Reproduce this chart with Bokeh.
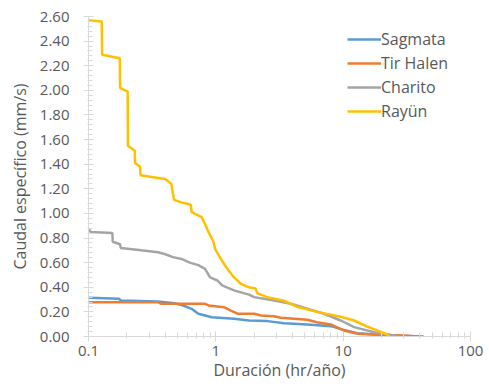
from bokeh.plotting import figure
from bokeh.models import FixedTicker, Legend, LegendItem, NumeralTickFormatter, Range1d
from bokeh.embed import file_html
from bokeh.resources import INLINE

# Data
sag_x = [0.100, 0.174, 0.179, 0.351, 0.475, 0.554, 0.645, 0.729, 0.929, 1.39, 1.82, 2.54, 3.44, 5.24, 7.99, 10.1, 12.95, 17.5, 28.2, 42.9]
sag_y = [0.315, 0.306, 0.293, 0.285, 0.270, 0.252, 0.225, 0.185, 0.157, 0.144, 0.130, 0.125, 0.108, 0.098, 0.084, 0.054, 0.027, 0.016, 0.006, 0.0]

tir_x = [0.100, 0.351, 0.373, 0.823, 0.875, 1.16, 1.31, 1.48, 2.00, 2.26, 2.87, 3.23, 5.24, 6.20, 7.99, 10.1, 12.95, 19.7, 31.8, 38.2]
tir_y = [0.279, 0.279, 0.266, 0.266, 0.252, 0.238, 0.211, 0.185, 0.185, 0.171, 0.165, 0.152, 0.136, 0.116, 0.098, 0.049, 0.022, 0.014, 0.006, 0.0]

cha_x = [0.100, 0.104, 0.154, 0.155, 0.177, 0.179, 0.259, 0.351, 0.396, 0.461, 0.537, 0.625, 0.729, 0.823, 0.901, 1.03, 1.12, 1.39, 1.82, 2.00, 2.87, 3.88, 5.24, 7.07, 9.56, 12.2, 17.5, 25.0, 27.4]
cha_y = [0.876, 0.850, 0.840, 0.770, 0.750, 0.720, 0.700, 0.685, 0.670, 0.645, 0.630, 0.600, 0.580, 0.550, 0.480, 0.455, 0.415, 0.375, 0.340, 0.320, 0.293, 0.266, 0.225, 0.185, 0.130, 0.076, 0.035, 0.008, 0.0]

ray_x = [0.100, 0.127, 0.128, 0.176, 0.177, 0.203, 0.204, 0.231, 0.232, 0.254, 0.256, 0.400, 0.447, 0.455, 0.470, 0.537, 0.637, 0.645, 0.774, 0.834, 0.875, 0.959, 0.987, 1.11, 1.23, 1.39, 1.57, 1.72, 1.82, 2.05, 2.12, 2.54, 3.44, 4.37, 6.27, 9.56, 12.2, 15.5, 22.2, 23.0]
ray_y = [2.57, 2.56, 2.29, 2.26, 2.02, 1.99, 1.55, 1.51, 1.41, 1.38, 1.31, 1.28, 1.24, 1.19, 1.11, 1.09, 1.07, 1.01, 0.97, 0.90, 0.85, 0.77, 0.71, 0.62, 0.55, 0.48, 0.43, 0.41, 0.40, 0.39, 0.35, 0.32, 0.29, 0.24, 0.20, 0.16, 0.13, 0.08, 0.016, 0.0]

names = ["Sagmata", "Tir Halen", "Charito", "Rayün"]
colors = ["#5B9BD5", "#ED7D31", "#A5A5A5", "#FFC000"]

x_ticks = [0.1, 1, 10, 100]
x_minor = [0.2, 0.3, 0.4, 0.5, 0.6, 0.7, 0.8, 0.9, 2, 3, 4, 5, 6, 7, 8, 9, 20, 30, 40, 50, 60, 70, 80, 90]
y_ticks = [0.0, 0.2, 0.4, 0.6, 0.8, 1.0, 1.2, 1.4, 1.6, 1.8, 2.0, 2.2, 2.4, 2.6]
y_minor = [i * 0.04 for i in range(66)]

FONT = "Open Sans"
TXT = "#595959"
AX = "#D9D9D9"

p = figure(width=489, height=387, x_axis_type="log", output_backend="svg",
           toolbar_location=None, min_border_left=88, min_border_right=19,
           min_border_top=16, min_border_bottom=51)
p.x_range = Range1d(0.1, 100)
p.y_range = Range1d(0, 2.6)
p.outline_line_color = None
p.xgrid.visible = False
p.ygrid.visible = False

renderers = []
for xs, ys, c in zip([sag_x, tir_x, cha_x, ray_x], [sag_y, tir_y, cha_y, ray_y], colors):
    r = p.line(xs, ys, line_color=c, line_width=2.5)
    renderers.append(r)

xa = p.xaxis[0]
xa.ticker = FixedTicker(ticks=x_ticks, minor_ticks=x_minor)
xa.major_label_overrides = {0.1: "0.1", 1: "1", 10: "10", 100: "100"}
ya = p.yaxis[0]
ya.ticker = FixedTicker(ticks=y_ticks, minor_ticks=y_minor)
ya.formatter = NumeralTickFormatter(format="0.00")

for ax in (xa, ya):
    ax.axis_line_color = AX
    ax.major_tick_line_color = AX
    ax.minor_tick_line_color = AX
    ax.major_label_text_color = TXT
    ax.major_label_text_font = FONT
    ax.major_label_text_font_size = "15px"
    ax.axis_label_text_color = TXT
    ax.axis_label_text_font = FONT
    ax.axis_label_text_font_size = "16px"
    ax.axis_label_text_font_style = "normal"

xa.axis_label = "Duración (hr/año)"
ya.axis_label = "Caudal específico (mm/s)"
xa.major_tick_in = 5
xa.major_tick_out = 5
xa.minor_tick_in = 4
xa.minor_tick_out = 2
xa.major_label_standoff = 4
xa.axis_label_standoff = 0
ya.major_tick_in = 5
ya.major_tick_out = 5
ya.minor_tick_in = 4
ya.minor_tick_out = 1
ya.major_label_standoff = 14
ya.axis_label_standoff = 6

legend = Legend(items=[LegendItem(label=n, renderers=[r]) for n, r in zip(names, renderers)],
                location=(259, 213), padding=0, margin=0, spacing=0,
                glyph_width=34, glyph_height=24, label_height=24, label_standoff=0,
                label_text_font=FONT, label_text_font_size="16px", label_text_color=TXT,
                border_line_color=None, background_fill_alpha=0)
p.add_layout(legend, "center")

open("out.html", "w").write(file_html(p, INLINE))
